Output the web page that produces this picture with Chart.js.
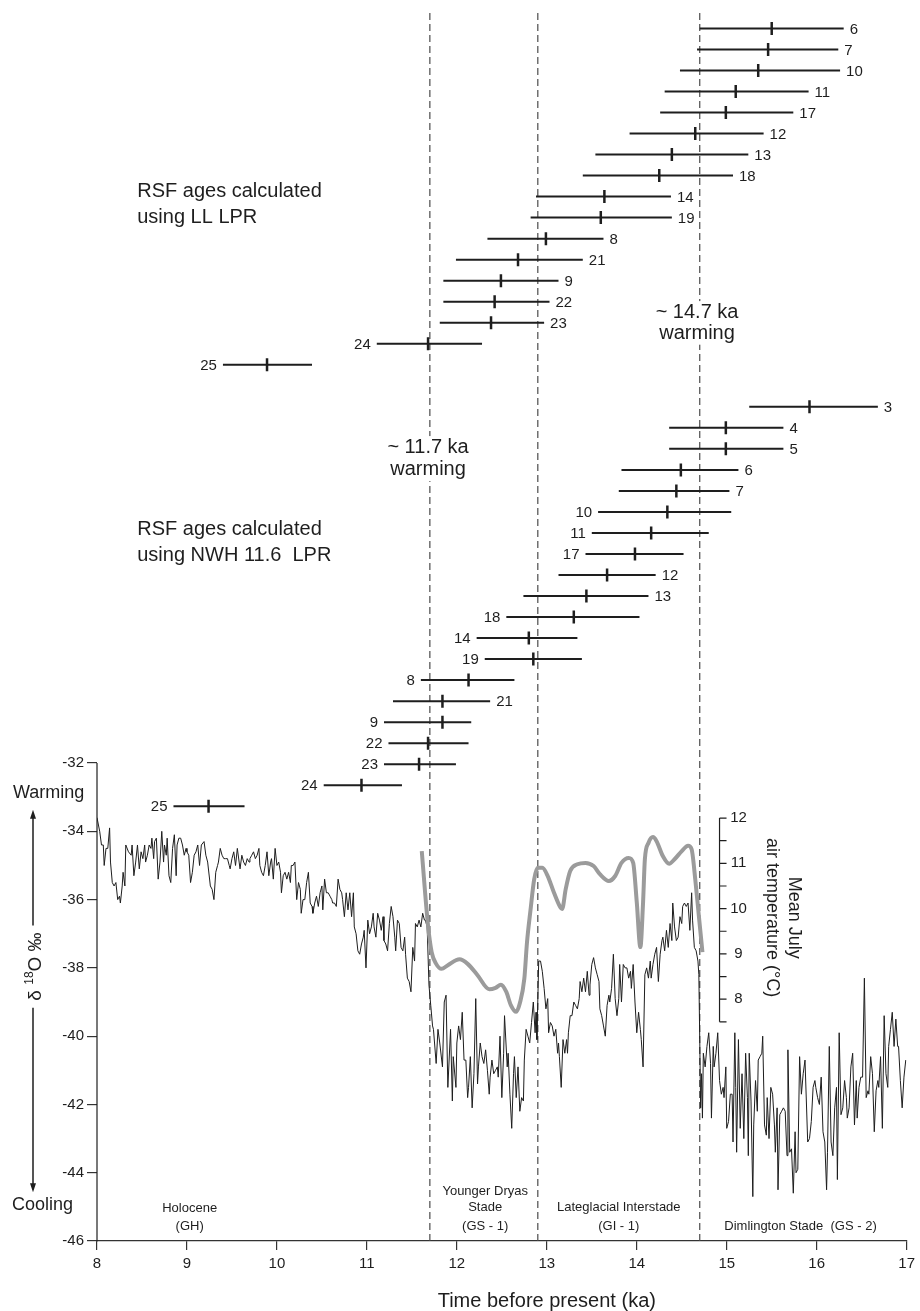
<!DOCTYPE html>
<html lang="en">
  <head>
    <meta charset="UTF-8" />
    <title>RSF ages and d18O record</title>
    <style>
      body { margin: 0; background: #fff; }
      canvas { display: block; }
    </style>
  </head>
  <body>
    <canvas id="chart" width="920" height="1311"></canvas>

    <script src="https://cdn.jsdelivr.net/npm/chart.js@4.4.0/dist/chart.umd.min.js"></script>
    <script>
      const FONT = '"Liberation Sans", Arial, Helvetica, sans-serif';
      const ink = "#1e1e1e";

      // warming boundaries (ka)
      const boundaries = [11.7, 12.9, 14.7];

      // RSF ages, LL LPR
      const llSites = ["6", "7", "10", "11", "17", "12", "13", "18", "14", "19", "8", "21", "9", "22", "23", "24", "25"];
      const llMid = [15.5, 15.46, 15.35, 15.1, 14.99, 14.65, 14.39, 14.25, 13.64, 13.6, 12.99, 12.68, 12.49, 12.42, 12.38, 11.68, 9.89];
      const llLow = [14.7, 14.67, 14.48, 14.31, 14.26, 13.92, 13.54, 13.4, 12.88, 12.82, 12.34, 11.99, 11.85, 11.85, 11.81, 11.11, 9.4];
      const llHigh = [16.3, 16.24, 16.26, 15.91, 15.74, 15.41, 15.24, 15.07, 14.38, 14.39, 13.63, 13.4, 13.13, 13.03, 12.97, 12.28, 10.39];
      const llSide = ["r", "r", "r", "r", "r", "r", "r", "r", "r", "r", "r", "r", "r", "r", "r", "l", "l"];

      // RSF ages, NWH 11.6 LPR
      const nwhSites = ["3", "4", "5", "6", "7", "10", "11", "17", "12", "13", "18", "14", "19", "8", "21", "9", "22", "23", "24", "25"];
      const nwhMid = [15.92, 14.99, 14.99, 14.49, 14.44, 14.34, 14.16, 13.98, 13.67, 13.44, 13.3, 12.8, 12.85, 12.13, 11.84, 11.84, 11.68, 11.58, 10.94, 9.24];
      const nwhLow = [15.25, 14.36, 14.36, 13.83, 13.8, 13.57, 13.5, 13.43, 13.13, 12.74, 12.55, 12.22, 12.31, 11.6, 11.29, 11.19, 11.24, 11.19, 10.52, 8.85];
      const nwhHigh = [16.68, 15.63, 15.63, 15.13, 15.03, 15.05, 14.8, 14.52, 14.21, 14.13, 14.03, 13.34, 13.39, 12.64, 12.37, 12.16, 12.13, 11.99, 11.39, 9.64];
      const nwhSide = ["r", "r", "r", "r", "r", "l", "l", "l", "r", "r", "l", "l", "l", "l", "r", "l", "l", "l", "l", "l"];

      // mean July air temperature (ka, degC)
      const tempAges = [11.61, 11.68, 11.72, 11.77, 11.83, 11.9, 12.03, 12.12, 12.23, 12.36, 12.43, 12.49, 12.55, 12.6, 12.66, 12.7, 12.75, 12.78, 12.82, 12.86, 12.9, 12.95, 13.01, 13.08, 13.15, 13.17, 13.21, 13.26, 13.34, 13.43, 13.52, 13.59, 13.69, 13.76, 13.83, 13.91, 13.96, 14.0, 14.04, 14.07, 14.09, 14.13, 14.18, 14.22, 14.29, 14.36, 14.42, 14.5, 14.57, 14.61, 14.65, 14.69, 14.73];
      const tempVals = [11.27, 9.62, 9.04, 8.78, 8.67, 8.75, 8.88, 8.78, 8.53, 8.22, 8.25, 8.32, 8.16, 7.87, 7.72, 7.91, 8.45, 9.26, 9.99, 10.65, 10.9, 10.9, 10.72, 10.35, 10.03, 9.99, 10.43, 10.83, 10.98, 11.01, 10.94, 10.76, 10.61, 10.72, 11.01, 11.12, 11.01, 10.14, 9.15, 10.14, 11.09, 11.45, 11.58, 11.49, 11.16, 10.99, 11.09, 11.27, 11.39, 11.31, 10.65, 9.84, 9.04];
      const tempTicks = [7.5, 8, 8.5, 9, 9.5, 10, 10.5, 11, 11.5, 12];
      const tempLabels = [8, 9, 10, 11, 12];
      const tempAxisAt = 14.92;

      const isoTicks = [-32, -34, -36, -38, -40, -42, -44, -46];

      // d18O record [age ka, permil]
      const iso = [
        [8.00,-33.6],[8.03,-34.0],[8.05,-34.4],[8.07,-34.4],[8.08,-35.0],[8.10,-34.5],[8.12,-34.5],[8.14,-33.9],[8.15,-34.9],[8.17,-35.5],
        [8.19,-35.6],[8.21,-35.5],[8.23,-36.0],[8.25,-35.9],[8.26,-36.1],[8.28,-35.6],[8.29,-35.2],[8.31,-35.6],[8.32,-34.4],[8.35,-34.6],
        [8.38,-34.7],[8.39,-34.4],[8.41,-35.3],[8.43,-34.9],[8.45,-34.4],[8.47,-35.1],[8.49,-34.6],[8.51,-34.8],[8.53,-34.4],[8.54,-34.9],
        [8.56,-34.7],[8.58,-34.4],[8.60,-34.5],[8.61,-34.2],[8.63,-34.8],[8.64,-34.3],[8.66,-34.2],[8.68,-35.4],[8.70,-34.9],[8.72,-34.0],
        [8.74,-34.9],[8.75,-34.4],[8.77,-34.7],[8.78,-34.2],[8.80,-35.3],[8.82,-35.5],[8.84,-34.5],[8.86,-34.1],[8.88,-35.3],[8.89,-34.4],
        [8.91,-34.2],[8.93,-34.2],[8.95,-34.4],[8.97,-34.7],[8.99,-34.5],[9.00,-34.6],[9.02,-34.7],[9.04,-35.5],[9.06,-35.2],[9.08,-34.7],
        [9.10,-34.6],[9.12,-34.4],[9.14,-35.0],[9.16,-34.4],[9.19,-34.3],[9.21,-34.7],[9.23,-34.9],[9.26,-35.6],[9.28,-35.7],[9.30,-36.0],
        [9.32,-35.2],[9.34,-35.0],[9.35,-34.9],[9.37,-34.5],[9.39,-34.7],[9.41,-34.8],[9.43,-34.8],[9.45,-34.8],[9.47,-35.0],[9.48,-35.1],
        [9.50,-34.8],[9.52,-34.6],[9.54,-35.0],[9.56,-34.5],[9.58,-34.9],[9.59,-35.1],[9.61,-34.7],[9.63,-34.9],[9.65,-35.0],[9.67,-34.8],
        [9.69,-34.9],[9.70,-34.8],[9.72,-34.7],[9.74,-34.6],[9.76,-34.8],[9.78,-34.7],[9.80,-34.5],[9.81,-35.0],[9.83,-35.2],[9.85,-35.3],
        [9.87,-35.0],[9.89,-34.6],[9.91,-35.3],[9.93,-34.9],[9.94,-34.8],[9.96,-35.4],[9.98,-34.5],[10.00,-35.0],[10.02,-34.9],[10.04,-35.2],
        [10.05,-35.8],[10.07,-35.3],[10.09,-35.2],[10.11,-35.4],[10.13,-35.2],[10.15,-35.5],[10.16,-35.0],[10.18,-35.0],[10.20,-34.9],[10.22,-36.0],
        [10.24,-35.5],[10.26,-35.7],[10.27,-36.4],[10.29,-36.0],[10.31,-36.0],[10.33,-35.5],[10.35,-35.2],[10.37,-36.1],[10.39,-36.2],[10.40,-36.4],
        [10.42,-36.1],[10.44,-35.9],[10.46,-36.2],[10.48,-35.8],[10.50,-35.6],[10.51,-36.3],[10.53,-35.4],[10.55,-35.8],[10.57,-35.8],[10.59,-35.9],
        [10.61,-36.0],[10.62,-36.1],[10.64,-36.1],[10.66,-36.2],[10.68,-35.4],[10.70,-35.7],[10.72,-35.8],[10.73,-36.0],[10.75,-36.5],[10.77,-35.8],
        [10.79,-36.3],[10.81,-35.8],[10.83,-36.5],[10.85,-35.8],[10.86,-36.8],[10.88,-37.0],[10.90,-37.5],[10.92,-37.6],[10.94,-37.3],[10.96,-37.1],
        [10.97,-36.9],[10.99,-38.0],[11.01,-36.6],[11.03,-37.0],[11.05,-36.8],[11.07,-36.4],[11.08,-36.8],[11.10,-37.1],[11.12,-36.4],[11.14,-36.6],
        [11.16,-36.9],[11.18,-36.5],[11.19,-37.2],[11.21,-37.3],[11.23,-37.5],[11.25,-36.7],[11.27,-36.2],[11.29,-36.5],[11.31,-37.1],[11.32,-37.5],
        [11.34,-36.6],[11.36,-36.7],[11.38,-37.4],[11.40,-37.5],[11.42,-37.1],[11.43,-37.6],[11.45,-38.3],[11.47,-38.4],[11.49,-38.7],[11.51,-37.4],
        [11.53,-37.8],[11.54,-36.7],[11.56,-36.8],[11.58,-36.6],[11.60,-36.8],[11.62,-36.4],[11.64,-36.6],[11.65,-36.6],[11.67,-36.8],[11.69,-38.5],
        [11.71,-39.1],[11.73,-39.7],[11.74,-39.8],[11.77,-40.8],[11.79,-39.8],[11.81,-40.2],[11.84,-40.9],[11.86,-39.0],[11.88,-38.8],[11.90,-41.5],
        [11.93,-39.8],[11.95,-41.9],[11.96,-40.6],[11.99,-41.5],[12.00,-40.2],[12.02,-39.7],[12.04,-40.1],[12.06,-39.3],[12.08,-40.7],[12.10,-40.7],
        [12.12,-41.8],[12.13,-41.5],[12.15,-40.6],[12.17,-42.1],[12.19,-41.1],[12.21,-38.9],[12.23,-41.4],[12.24,-40.9],[12.26,-40.2],[12.28,-40.6],
        [12.30,-40.8],[12.32,-40.4],[12.34,-41.0],[12.36,-41.7],[12.37,-41.2],[12.39,-40.7],[12.41,-41.1],[12.43,-41.0],[12.45,-40.9],[12.46,-41.2],
        [12.48,-40.0],[12.50,-41.8],[12.52,-40.5],[12.53,-39.4],[12.56,-40.9],[12.57,-40.5],[12.59,-41.7],[12.61,-42.7],[12.63,-41.1],[12.64,-40.6],
        [12.66,-41.8],[12.68,-40.9],[12.70,-42.2],[12.72,-41.8],[12.74,-41.9],[12.75,-40.7],[12.77,-39.8],[12.79,-40.0],[12.81,-40.2],[12.83,-39.6],
        [12.85,-39.0],[12.87,-39.9],[12.88,-39.3],[12.89,-40.1],[12.91,-37.8],[12.93,-37.8],[12.95,-38.1],[12.97,-38.6],[12.99,-39.2],[13.01,-38.9],
        [13.02,-39.9],[13.04,-39.6],[13.06,-39.7],[13.08,-40.0],[13.10,-39.8],[13.12,-40.5],[13.13,-40.2],[13.14,-40.6],[13.16,-41.5],[13.18,-40.1],
        [13.20,-40.5],[13.22,-40.1],[13.23,-40.5],[13.24,-39.9],[13.26,-39.4],[13.28,-39.4],[13.30,-39.0],[13.32,-39.1],[13.34,-39.2],[13.36,-38.9],
        [13.37,-38.4],[13.39,-38.7],[13.41,-38.3],[13.43,-38.7],[13.45,-38.1],[13.47,-38.8],[13.48,-38.5],[13.50,-37.9],[13.52,-37.7],[13.54,-38.0],
        [13.56,-38.2],[13.58,-38.4],[13.59,-39.2],[13.61,-39.4],[13.63,-39.7],[13.65,-40.0],[13.67,-39.1],[13.69,-38.8],[13.70,-39.0],[13.72,-38.6],
        [13.74,-37.6],[13.76,-38.9],[13.78,-39.4],[13.80,-38.9],[13.81,-37.9],[13.83,-39.0],[13.85,-37.9],[13.87,-38.0],[13.89,-38.0],[13.91,-38.3],
        [13.93,-38.1],[13.94,-38.6],[13.96,-37.9],[13.98,-39.0],[14.00,-39.9],[14.02,-39.3],[14.04,-39.8],[14.05,-40.1],[14.07,-40.9],[14.09,-38.2],
        [14.11,-38.0],[14.13,-38.3],[14.15,-37.8],[14.16,-38.3],[14.18,-37.9],[14.20,-37.6],[14.22,-37.4],[14.24,-38.4],[14.26,-37.6],[14.28,-37.2],
        [14.29,-37.1],[14.31,-37.5],[14.33,-36.9],[14.35,-37.4],[14.37,-36.7],[14.39,-37.2],[14.40,-36.1],[14.42,-36.8],[14.44,-37.2],[14.46,-37.1],
        [14.48,-36.5],[14.50,-36.7],[14.51,-36.2],[14.53,-36.1],[14.55,-36.2],[14.57,-36.1],[14.59,-36.9],[14.61,-35.8],[14.62,-36.6],[14.64,-37.4],
        [14.66,-37.5],[14.68,-37.8],[14.69,-38.2],[14.70,-40.1],[14.71,-42.1],[14.72,-41.1],[14.73,-42.4],[14.74,-40.5],[14.76,-40.9],[14.78,-40.3],
        [14.80,-39.9],[14.82,-40.8],[14.83,-42.4],[14.85,-40.3],[14.86,-40.9],[14.88,-40.5],[14.90,-39.9],[14.92,-41.3],[14.94,-41.7],[14.96,-41.5],
        [14.97,-41.8],[14.99,-40.9],[15.00,-42.7],[15.02,-42.5],[15.04,-41.7],[15.06,-41.7],[15.07,-43.1],[15.09,-39.9],[15.10,-41.5],[15.11,-43.4],
        [15.13,-40.1],[15.15,-42.7],[15.17,-41.1],[15.19,-43.0],[15.21,-40.5],[15.23,-41.8],[15.24,-43.5],[15.25,-40.5],[15.27,-41.9],[15.29,-44.7],
        [15.30,-42.6],[15.32,-41.3],[15.34,-42.2],[15.35,-40.7],[15.37,-40.6],[15.39,-40.5],[15.40,-40.0],[15.42,-42.6],[15.44,-42.9],[15.45,-41.8],
        [15.47,-43.0],[15.49,-41.5],[15.51,-41.7],[15.53,-42.6],[15.54,-43.4],[15.56,-42.1],[15.57,-44.5],[15.59,-42.3],[15.61,-42.2],[15.63,-42.1],
        [15.65,-42.2],[15.67,-43.5],[15.68,-40.4],[15.70,-43.4],[15.72,-43.3],[15.74,-44.6],[15.76,-42.8],[15.77,-44.0],[15.79,-43.9],[15.81,-40.6],
        [15.83,-41.7],[15.85,-41.1],[15.87,-40.7],[15.88,-40.7],[15.90,-43.1],[15.92,-43.0],[15.94,-42.5],[15.96,-41.5],[15.98,-41.3],[15.99,-41.5],
        [16.01,-41.8],[16.03,-42.0],[16.05,-41.2],[16.07,-42.8],[16.09,-43.1],[16.11,-44.5],[16.12,-43.4],[16.14,-40.3],[16.16,-43.1],[16.18,-43.5],
        [16.20,-42.1],[16.22,-41.5],[16.23,-44.2],[16.25,-39.9],[16.27,-42.3],[16.29,-42.1],[16.31,-41.3],[16.33,-41.8],[16.34,-42.4],[16.36,-42.1],
        [16.38,-40.9],[16.40,-40.5],[16.42,-42.6],[16.44,-41.3],[16.45,-42.4],[16.47,-41.5],[16.49,-41.2],[16.51,-41.2],[16.53,-38.3],[16.55,-41.8],
        [16.57,-41.6],[16.58,-41.7],[16.60,-40.6],[16.62,-41.1],[16.64,-42.8],[16.66,-41.6],[16.68,-41.3],[16.69,-41.5],[16.71,-40.6],[16.73,-42.7],
        [16.75,-39.4],[16.77,-41.1],[16.79,-41.5],[16.80,-40.3],[16.82,-39.8],[16.84,-39.3],[16.86,-40.3],[16.88,-39.5],[16.90,-40.3],[16.91,-40.3],
        [16.93,-41.3],[16.95,-42.1],[16.97,-41.2],[16.99,-40.7]
      ];

      // range lines and centre ticks, one row per site (NWH rows start after a gap)
      const nwhFirstRow = 18;
      const rangeData = [];
      const midData = [];
      const addRows = (low, high, mid, first) => {
        low.forEach((lo, i) => {
          rangeData.push({ x: lo, y: first + i }, { x: high[i], y: first + i }, { x: high[i], y: null });
          midData.push({ x: mid[i], y: first + i });
        });
      };
      addRows(llLow, llHigh, llMid, 0);
      addRows(nwhLow, nwhHigh, nwhMid, nwhFirstRow);

      const boundaryData = [];
      boundaries.forEach((b) => {
        boundaryData.push({ x: b, y: -46 }, { x: b, y: -10 }, { x: b, y: null });
      });

      const textAt = (ctx, str, px, py, size, align, baseline) => {
        ctx.font = size + "px " + FONT;
        ctx.textAlign = align;
        ctx.textBaseline = baseline || "alphabetic";
        ctx.fillText(str, px, py);
      };

      // centred note on a white patch so the dashed line stops behind it
      const noteAt = (ctx, str, px, py) => {
        ctx.font = "20px " + FONT;
        const w = ctx.measureText(str).width;
        ctx.save();
        ctx.fillStyle = "#fff";
        ctx.fillRect(px - w / 2 - 3, py - 17, w + 6, 23);
        ctx.restore();
        textAt(ctx, str, px, py, 20, "center");
      };

      // axes pieces, labels and notes drawn on top
      const decorations = {
        id: "decorations",
        afterDraw(chart) {
          const { ctx, chartArea } = chart;
          const { x, y, yr, yt } = chart.scales;
          ctx.save();
          ctx.fillStyle = ink;
          ctx.strokeStyle = ink;

          // d18O axis line only over its ticked range
          ctx.lineWidth = 1.2;
          ctx.beginPath();
          ctx.moveTo(chartArea.left, y.getPixelForValue(-32));
          ctx.lineTo(chartArea.left, y.getPixelForValue(-46) + 0.5);
          ctx.stroke();

          // temperature axis
          const tx = x.getPixelForValue(tempAxisAt);
          ctx.beginPath();
          ctx.moveTo(tx, yt.getPixelForValue(12));
          ctx.lineTo(tx, yt.getPixelForValue(7.5));
          tempTicks.forEach((t) => {
            const p = yt.getPixelForValue(t);
            ctx.moveTo(tx, p);
            ctx.lineTo(tx + 7, p);
          });
          ctx.stroke();
          tempLabels.forEach((t) => textAt(ctx, String(t), tx + 19, yt.getPixelForValue(t), 15, "center", "middle"));

          ctx.save();
          ctx.translate(tx + 63, yt.getPixelForValue(9.8));
          ctx.rotate(Math.PI / 2);
          textAt(ctx, "Mean July", 0, -11, 18, "center", "middle");
          textAt(ctx, "air temperature (°C)", 0, 11, 18, "center", "middle");
          ctx.restore();

          // site numbers beside each range
          const siteLabels = (sites, low, high, side, first) => {
            sites.forEach((s, i) => {
              const py = yr.getPixelForValue(first + i) + 1;
              if (side[i] === "r") textAt(ctx, s, x.getPixelForValue(high[i]) + 6, py, 15, "left", "middle");
              else textAt(ctx, s, x.getPixelForValue(low[i]) - 6, py, 15, "right", "middle");
            });
          };
          siteLabels(llSites, llLow, llHigh, llSide, 0);
          siteLabels(nwhSites, nwhLow, nwhHigh, nwhSide, nwhFirstRow);

          // notes
          const left = x.getPixelForValue(8.447);
          textAt(ctx, "RSF ages calculated", left, yr.getPixelForValue(8.0), 20, "left");
          textAt(ctx, "using LL LPR", left, yr.getPixelForValue(9.27), 20, "left");
          textAt(ctx, "RSF ages calculated", left, yr.getPixelForValue(24.1), 20, "left");
          textAt(ctx, "using NWH 11.6  LPR", left, yr.getPixelForValue(25.35), 20, "left");
          noteAt(ctx, "~ 14.7 ka", x.getPixelForValue(14.67), yr.getPixelForValue(13.78));
          noteAt(ctx, "warming", x.getPixelForValue(14.67), yr.getPixelForValue(14.76));
          noteAt(ctx, "~ 11.7 ka", x.getPixelForValue(11.68), yr.getPixelForValue(20.2));
          noteAt(ctx, "warming", x.getPixelForValue(11.68), yr.getPixelForValue(21.25));

          // stage names
          const stage = (lines, age) => {
            lines.forEach((l) => textAt(ctx, l[0], x.getPixelForValue(age), y.getPixelForValue(l[1]), 13, "center", "middle"));
          };
          stage([["Holocene", -45.06], ["(GH)", -45.56]], 9.03);
          stage([["Younger Dryas", -44.54], ["Stade", -45.03], ["(GS - 1)", -45.56]], 12.315);
          stage([["Lateglacial Interstade", -45.03], ["(GI - 1)", -45.56]], 13.8);
          stage([["Dimlington Stade  (GS - 2)", -45.56]], 15.82);

          // x axis title
          textAt(ctx, "Time before present (ka)", x.getPixelForValue(13.0), chartArea.bottom + 60, 20, "center", "middle");

          // warming / cooling arrow with d18O label
          const ax = chartArea.left - 64;
          const top = y.getPixelForValue(-33.37);
          const bottom = y.getPixelForValue(-44.57);
          const mid = y.getPixelForValue(-37.96);
          textAt(ctx, "Warming", chartArea.left - 84, y.getPixelForValue(-32.87), 18, "left", "middle");
          textAt(ctx, "Cooling", chartArea.left - 85, y.getPixelForValue(-44.95), 18, "left", "middle");

          ctx.save();
          ctx.translate(ax + 1, mid);
          ctx.rotate(-Math.PI / 2);
          ctx.font = "19px " + FONT;
          const w1 = ctx.measureText("δ ").width;
          ctx.font = "12px " + FONT;
          const w2 = ctx.measureText("18").width;
          ctx.font = "19px " + FONT;
          const w3 = ctx.measureText("O ‰").width;
          const total = w1 + w2 + w3;
          let cx = -total / 2;
          textAt(ctx, "δ ", cx, 7, 19, "left");
          cx += w1;
          textAt(ctx, "18", cx, -1, 12, "left");
          cx += w2;
          textAt(ctx, "O ‰", cx, 7, 19, "left");
          ctx.restore();

          ctx.lineWidth = 1.5;
          ctx.beginPath();
          ctx.moveTo(ax, top + 8);
          ctx.lineTo(ax, mid - total / 2 - 7);
          ctx.moveTo(ax, mid + total / 2 + 7);
          ctx.lineTo(ax, bottom - 8);
          ctx.stroke();
          ctx.beginPath();
          ctx.moveTo(ax, top);
          ctx.lineTo(ax - 3, top + 9);
          ctx.lineTo(ax + 3, top + 9);
          ctx.closePath();
          ctx.moveTo(ax, bottom);
          ctx.lineTo(ax - 3, bottom - 9);
          ctx.lineTo(ax + 3, bottom - 9);
          ctx.closePath();
          ctx.fill();

          ctx.restore();
        },
      };

      Chart.defaults.font.family = FONT;
      Chart.defaults.font.size = 15;
      Chart.defaults.color = ink;

      const chart = new Chart(document.getElementById("chart"), {
        type: "line",
        data: {
          datasets: [
            {
              label: "Mean July air temperature",
              data: tempAges.map((a, i) => ({ x: a, y: tempVals[i] })),
              yAxisID: "yt",
              borderColor: "#9b9b9b",
              borderWidth: 4,
              pointRadius: 0,
              cubicInterpolationMode: "monotone",
              order: 0,
            },
            {
              label: "d18O",
              data: iso.map((p) => ({ x: p[0], y: p[1] })),
              yAxisID: "y",
              borderColor: ink,
              borderWidth: 1,
              pointRadius: 0,
              tension: 0,
              order: 1,
            },
            {
              label: "RSF age",
              data: midData,
              yAxisID: "yr",
              showLine: false,
              pointStyle: "line",
              pointRotation: 90,
              pointRadius: 6.5,
              pointBorderWidth: 2.5,
              pointBorderColor: ink,
              order: 2,
            },
            {
              label: "RSF range",
              data: rangeData,
              yAxisID: "yr",
              borderColor: ink,
              borderWidth: 2,
              pointRadius: 0,
              spanGaps: false,
              order: 3,
            },
            {
              label: "warming",
              data: boundaryData,
              yAxisID: "y",
              borderColor: "#4a4a4a",
              borderWidth: 1.2,
              borderDash: [7, 4],
              pointRadius: 0,
              spanGaps: false,
              order: 4,
            },
          ],
        },
        options: {
          responsive: false,
          animation: false,
          devicePixelRatio: 1,
          events: [],
          layout: { padding: { top: 3.5, right: 8, left: 0, bottom: 0 } },
          plugins: { legend: { display: false }, tooltip: { enabled: false } },
          scales: {
            x: {
              type: "linear",
              min: 8,
              max: 17,
              ticks: { stepSize: 1, padding: 5, color: ink, font: { size: 15 } },
              grid: { drawOnChartArea: false, tickLength: 9, color: "#333", lineWidth: 1.2 },
              border: { color: "#333", width: 1.2 },
              afterFit: (s) => { s.height = 70; },
            },
            y: {
              type: "linear",
              position: "left",
              min: -46,
              max: -10,
              ticks: { stepSize: 2, padding: 3, color: ink, font: { size: 15 } },
              afterBuildTicks: (s) => { s.ticks = isoTicks.map((v) => ({ value: v })); },
              grid: { drawOnChartArea: false, tickLength: 10, color: "#333", lineWidth: 1.2 },
              border: { display: false },
              afterFit: (s) => { s.width = 97; },
            },
            yr: { type: "linear", display: false, reverse: true, min: -0.78, max: 57.68 },
            yt: { type: "linear", display: false, min: 2.66, max: 29.8 },
          },
        },
        plugins: [decorations],
      });
    </script>
  </body>
</html>
